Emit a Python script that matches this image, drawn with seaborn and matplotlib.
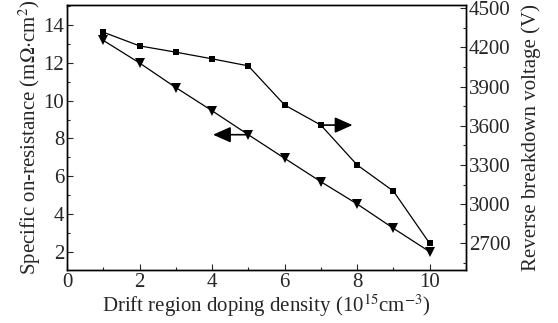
import matplotlib
matplotlib.use("Agg")
import matplotlib.pyplot as plt
import seaborn as sns
import pandas as pd
from matplotlib.ticker import MultipleLocator

doping = [1, 2, 3, 4, 5, 6, 7, 8, 9, 10]
ron = [13.2, 12.0, 10.7, 9.47, 8.2, 6.95, 5.71, 4.53, 3.24, 2.0]
bv = [4316, 4211, 4163, 4112, 4058, 3759, 3605, 3300, 3100, 2700]

sns.set_theme(style="ticks")
plt.rcParams['font.family'] = ['Liberation Serif', 'DejaVu Serif']
plt.rcParams['mathtext.fontset'] = 'stix'
plt.rcParams['xtick.direction'] = 'in'
plt.rcParams['ytick.direction'] = 'in'

df = pd.DataFrame({"x": doping, "ron": ron, "bv": bv})

fig = plt.figure(figsize=(5.58, 3.23), dpi=100)
ax = fig.add_axes([0.12, 0.164, 0.715, 0.821])
ax2 = ax.twinx()

sns.lineplot(data=df, x="x", y="ron", ax=ax, color="black", lw=0.9,
             marker="v", markersize=6.5, markeredgewidth=0)
sns.lineplot(data=df, x="x", y="bv", ax=ax2, color="black", lw=0.9,
             marker="s", markersize=5, markeredgewidth=0)

ax.set_xlim(0, 11)
ax.set_ylim(1.03, 15.08)
ax2.set_ylim(2496, 4525)

ax.xaxis.set_major_locator(MultipleLocator(2))
ax.xaxis.set_minor_locator(MultipleLocator(1))
ax.yaxis.set_major_locator(MultipleLocator(2))
ax.yaxis.set_minor_locator(MultipleLocator(1))
ax2.yaxis.set_major_locator(MultipleLocator(300))
ax2.yaxis.set_minor_locator(MultipleLocator(150))

fs = 15
for a in (ax, ax2):
    a.tick_params(which='major', length=4, width=0.8, labelsize=fs, direction='in', pad=2)
    a.tick_params(which='minor', length=2.5, width=0.8, direction='in')
    for s in a.spines.values():
        s.set_linewidth(1)
        s.set_color('black')

ax.set_xlabel("Drift region doping density (10$^{15}$cm$^{-3}$)", fontsize=fs, labelpad=0)
ax.set_ylabel("Specific on-resistance (m$\\Omega$$\\cdot$cm$^{2}$)", fontsize=fs, labelpad=0)
ax2.set_ylabel("Reverse breakdown voltage (V)", fontsize=fs, labelpad=8)

# arrows indicating axes
ax.annotate("", xy=(3.95, ron[4]), xytext=(doping[4], ron[4]),
            arrowprops=dict(arrowstyle="-|>,head_length=0.9,head_width=0.4", color="black", lw=1.2))
ax2.annotate("", xy=(7.95, bv[6]), xytext=(doping[6], bv[6]),
             arrowprops=dict(arrowstyle="-|>,head_length=0.9,head_width=0.4", color="black", lw=1.2))

fig.savefig("out.png", dpi=100)
